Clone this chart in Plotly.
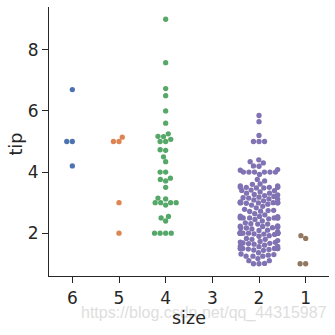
import numpy as np
import plotly.graph_objects as go

# ---- data ----
order = [6, 5, 4, 3, 2, 1]
tick_labels = ["6", "5", "4", "3", "2", "1"]
palette = ["#4C72B0", "#DD8452", "#55A868", "#C44E52", "#8172B3", "#937860"]

tips_size6 = [6.7, 5.0, 5.0, 4.2]
tips_size5 = [5.14, 5.0, 5.0, 3.0, 2.0]
tips_size4 = [9.0, 7.58, 6.73, 6.5, 6.0, 5.6, 5.25, 5.17, 5.16, 5.07, 5.0, 5.0,
              4.73, 4.71, 4.5, 4.34, 4.0, 4.0, 3.8, 3.76, 3.71, 3.5,
              3.15, 3.12, 3.0, 3.0, 3.0, 3.0, 2.92, 2.55, 2.5, 2.4,
              2.0, 2.0, 2.0, 2.0]
tips_size3 = []
tips_size2 = [5.85, 5.65, 5.2, 5.0, 5.0, 5.0,
              4.4, 4.34, 4.3, 4.2, 4.19, 4.08, 4.06, 4.0, 4.0, 4.0, 4.0, 4.0, 4.0, 3.92, 3.76, 3.71,
              3.61, 3.6, 3.55, 3.55, 3.51, 3.5, 3.5, 3.5, 3.5, 3.48, 3.48, 3.41, 3.4, 3.39, 3.35,
              3.31, 3.31, 3.27, 3.25, 3.23, 3.2, 3.18, 3.16, 3.15, 3.12, 3.11, 3.09, 3.06, 3.02,
              3.0, 3.0, 3.0, 3.0, 3.0, 3.0, 3.0, 2.99, 2.98, 2.95, 2.92,
              2.88, 2.83, 2.78, 2.75, 2.74, 2.72, 2.71, 2.64, 2.6, 2.56, 2.55, 2.54, 2.52,
              2.5, 2.5, 2.5, 2.5, 2.5, 2.5, 2.47, 2.45, 2.4, 2.34, 2.31, 2.3, 2.3, 2.24, 2.23,
              2.22, 2.2, 2.2, 2.2, 2.18, 2.18, 2.17,
              2.14, 2.1, 2.09, 2.05, 2.03, 2.02, 2.01, 2.0, 2.0, 2.0, 2.0, 2.0, 2.0, 2.0, 2.0,
              2.0, 2.0, 2.0, 2.0, 2.0, 1.98, 1.97, 1.96, 1.92, 1.9,
              1.83, 1.8, 1.8, 1.76, 1.73, 1.71, 1.7, 1.68, 1.67, 1.66, 1.64, 1.61, 1.58, 1.57,
              1.56, 1.5, 1.5, 1.5, 1.5, 1.5, 1.5, 1.48, 1.47, 1.45, 1.44,
              1.36, 1.32, 1.3, 1.28, 1.25, 1.25, 1.25, 1.17, 1.1, 1.1, 1.01, 1.0, 1.0]
tips_size1 = [1.92, 1.83, 1.0, 1.0]

tips_by_size = {6: tips_size6, 5: tips_size5, 4: tips_size4, 3: tips_size3,
                2: tips_size2, 1: tips_size1}

# ---- layout geometry ----
W, H = 335, 335
ML, MR, MT, MB = 49, 6, 7, 59
YMIN, YMAX = 0.6, 9.4
plot_w = W - ML - MR
plot_h = H - MT - MB
cat_px = plot_w / len(order)
y_px = plot_h / (YMAX - YMIN)
diam = 5.3
r = diam / 2


def beeswarm(values):
    """seaborn-like swarm: returns (offset_in_category_units, value) lists."""
    vals = np.sort(np.asarray(values, dtype=float))
    placed = []
    for v in vals:
        y = v * y_px
        neigh = [(px, py) for px, py in placed if abs(py - y) < 2 * r]
        cands = [0.0]
        left_first = True
        for px, py in neigh:
            dx = np.sqrt(max((2 * r) ** 2 - (y - py) ** 2, 0)) * 1.05
            pair = [px - dx, px + dx] if left_first else [px + dx, px - dx]
            cands.extend(pair)
            left_first = not left_first
        cands = sorted(cands, key=lambda c: abs(c))
        chosen = cands[-1]
        for c in cands:
            if all((c - px) ** 2 + (y - py) ** 2 >= (2 * r) ** 2 - 1e-6 for px, py in neigh):
                chosen = c
                break
        placed.append((chosen, y))
    half = 0.4 * cat_px
    offs = [min(max(px, -half), half) / cat_px for px, _ in placed]
    return offs, list(vals)


fig = go.Figure()
for i, s in enumerate(order):
    vals = tips_by_size[s]
    if not vals:
        continue
    offs, vs = beeswarm(vals)
    fig.add_trace(go.Scatter(
        x=[i + o for o in offs], y=vs, mode="markers",
        marker=dict(size=diam, color=palette[i], line=dict(width=0)),
        showlegend=False, hoverinfo="skip"))

axis_col = "#262626"
fig.update_layout(
    width=W, height=H,
    margin=dict(l=ML, r=MR, t=MT, b=MB),
    paper_bgcolor="white", plot_bgcolor="white",
    font=dict(family="DejaVu Sans", color=axis_col),
    xaxis=dict(range=[-0.5, len(order) - 0.5], tickmode="array",
               tickvals=list(range(len(order))), ticktext=tick_labels,
               showline=True, linecolor=axis_col, linewidth=1.25,
               ticks="outside", ticklen=6, tickwidth=1.25, tickcolor=axis_col,
               tickfont=dict(size=17), showgrid=False, zeroline=False),
    yaxis=dict(range=[YMIN, YMAX], tickvals=[2, 4, 6, 8],
               showline=True, linecolor=axis_col, linewidth=1.25,
               ticks="outside", ticklen=6, tickwidth=1.25, tickcolor=axis_col,
               tickfont=dict(size=17), showgrid=False, zeroline=False),
)

# watermark first, then the axis titles on top of it
fig.add_annotation(text="https://blog.csdn.net/qq_44315987", xref="paper", yref="paper",
                   x=(203.5 - ML) / plot_w, y=(H - MB - 313) / plot_h,
                   xanchor="center", yanchor="middle", showarrow=False,
                   font=dict(family="Liberation Sans", size=16, color="#dedede"))
fig.add_annotation(text="size", xref="paper", yref="paper",
                   x=0.5, y=(H - MB - 318) / plot_h,
                   xanchor="center", yanchor="middle", showarrow=False,
                   font=dict(family="DejaVu Sans", size=17.5, color=axis_col))
fig.add_annotation(text="tip", xref="paper", yref="paper",
                   x=(15.5 - ML) / plot_w, y=(H - MB - 144) / plot_h,
                   xanchor="center", yanchor="middle", showarrow=False, textangle=-90,
                   font=dict(family="DejaVu Sans", size=17.5, color=axis_col))

fig.write_html("out.html")
